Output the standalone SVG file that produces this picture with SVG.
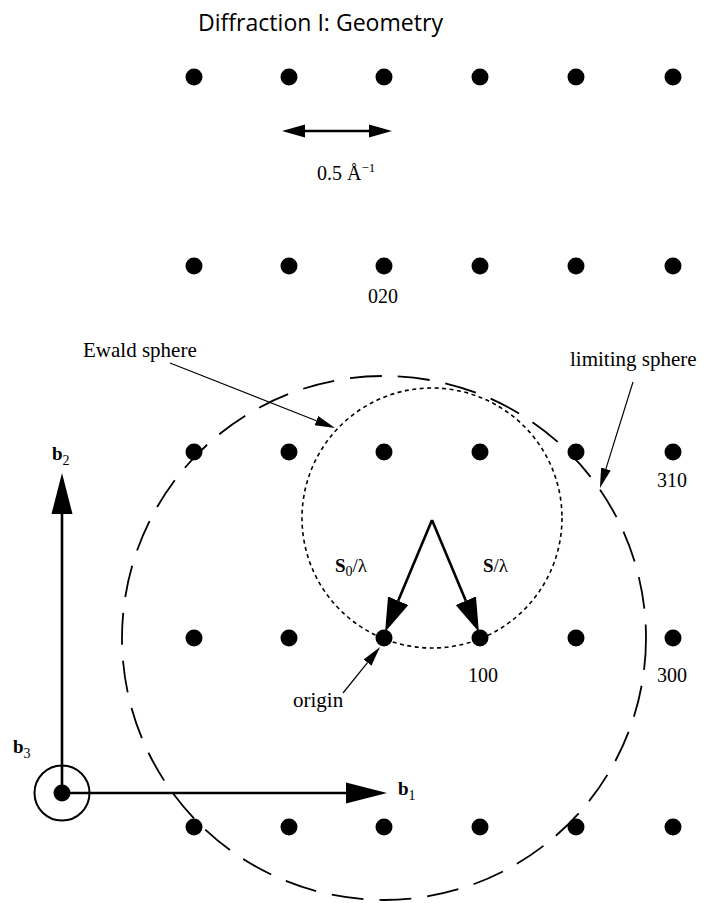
<svg xmlns="http://www.w3.org/2000/svg" width="703" height="903" viewBox="0 0 703 903">
<style>
.dot{fill:#000}
.lbl{font-family:"Liberation Serif","Times New Roman",serif;font-size:21px;fill:#000}
.num{font-family:"Liberation Serif","Times New Roman",serif;font-size:20px;fill:#000}
.vec{font-family:"Liberation Serif","Times New Roman",serif;font-size:19px;font-weight:bold;fill:#000}
.sub{font-size:14px;font-weight:normal}
.title{font-family:"Open Sans","Noto Sans",sans-serif;font-size:23px;fill:#000}
.thick{stroke:#000;stroke-width:2.6;fill:none}
.thin{stroke:#000;stroke-width:1.2;fill:none}
</style>
<defs>
<marker id="hb" markerUnits="userSpaceOnUse" markerWidth="42" markerHeight="24" viewBox="0 -12 42 24" refX="0" refY="0" orient="auto"><path d="M0,-10.5 L41,0 L0,10.5 Z" fill="#000"/></marker>
<marker id="hs" markerUnits="userSpaceOnUse" markerWidth="36" markerHeight="24" viewBox="0 -12 36 24" refX="0" refY="0" orient="auto"><path d="M0,-11 L34,0 L0,11 Z" fill="#000"/></marker>
<marker id="hm" markerUnits="userSpaceOnUse" markerWidth="24" markerHeight="16" viewBox="0 -8 24 16" refX="0" refY="0" orient="auto-start-reverse"><path d="M0,-6.5 L23,0 L0,6.5 Z" fill="#000"/></marker>
<marker id="ht" markerUnits="userSpaceOnUse" markerWidth="22" markerHeight="12" viewBox="0 -6 22 12" refX="0" refY="0" orient="auto"><path d="M0,-5 L20,0 L0,5 Z" fill="#000"/></marker>
</defs>
<rect width="703" height="903" fill="#fff"/>
<text class="title" x="198" y="31" textLength="245" lengthAdjust="spacingAndGlyphs">Diffraction I: Geometry</text>
<g id="lattice">
<g id="row0"><circle class="dot" cx="194" cy="77" r="8.5"/><circle class="dot" cx="289" cy="77" r="8.5"/><circle class="dot" cx="384" cy="77" r="8.5"/><circle class="dot" cx="480" cy="77" r="8.5"/><circle class="dot" cx="576" cy="77" r="8.5"/><circle class="dot" cx="673" cy="77" r="8.5"/></g>
<g id="row1"><circle class="dot" cx="194" cy="266" r="8.5"/><circle class="dot" cx="289" cy="266" r="8.5"/><circle class="dot" cx="384" cy="266" r="8.5"/><circle class="dot" cx="480" cy="266" r="8.5"/><circle class="dot" cx="576" cy="266" r="8.5"/><circle class="dot" cx="673" cy="266" r="8.5"/></g>
<g id="row2"><circle class="dot" cx="194" cy="452" r="8.5"/><circle class="dot" cx="289" cy="452" r="8.5"/><circle class="dot" cx="384" cy="452" r="8.5"/><circle class="dot" cx="480" cy="452" r="8.5"/><circle class="dot" cx="576" cy="452" r="8.5"/><circle class="dot" cx="673" cy="452" r="8.5"/></g>
<g id="row3"><circle class="dot" cx="194" cy="638" r="8.5"/><circle class="dot" cx="289" cy="638" r="8.5"/><circle class="dot" cx="384" cy="638" r="8.5"/><circle class="dot" cx="480" cy="638" r="8.5"/><circle class="dot" cx="576" cy="638" r="8.5"/><circle class="dot" cx="673" cy="638" r="8.5"/></g>
<g id="row4"><circle class="dot" cx="194" cy="827" r="8.5"/><circle class="dot" cx="289" cy="827" r="8.5"/><circle class="dot" cx="384" cy="827" r="8.5"/><circle class="dot" cx="480" cy="827" r="8.5"/><circle class="dot" cx="576" cy="827" r="8.5"/><circle class="dot" cx="673" cy="827" r="8.5"/></g>
</g>
<g id="limiting-sphere"><circle cx="384" cy="638" r="262" fill="none" stroke="#000" stroke-width="1.8" stroke-dasharray="32 16"/></g>
<g id="ewald-sphere"><circle cx="432" cy="518" r="130" fill="none" stroke="#000" stroke-width="1.6" stroke-dasharray="4 3.5"/></g>
<g id="axes-origin"><circle cx="62" cy="793" r="27.5" fill="none" stroke="#000" stroke-width="2"/><circle class="dot" cx="62" cy="793" r="8.5"/></g>
<g id="connectors">
<line class="thick" x1="62" y1="793" x2="62" y2="514" marker-end="url(#hb)"/>
<line class="thick" x1="62" y1="793" x2="346" y2="793" marker-end="url(#hb)"/>
<line class="thick" x1="432" y1="520" x2="398.2" y2="600.7" marker-end="url(#hs)"/>
<line class="thick" x1="432" y1="520" x2="465.8" y2="600.7" marker-end="url(#hs)"/>
<line class="thick" stroke-width="3" x1="305" y1="131" x2="369" y2="131" marker-start="url(#hm)" marker-end="url(#hm)"/>
<line class="thin" x1="170" y1="363" x2="316.4" y2="420.7" marker-end="url(#ht)"/>
<line class="thin" x1="633" y1="382" x2="605.9" y2="468.9" marker-end="url(#ht)"/>
<line class="thin" x1="343" y1="693" x2="367.5" y2="662.6" marker-end="url(#ht)"/>
</g>
<g id="labels">
<text class="num" x="317" y="180">0.5 Å<tspan font-size="13" dy="-8">−1</tspan></text>
<text class="num" x="368" y="303">020</text>
<text class="lbl" x="83" y="357">Ewald sphere</text>
<text class="lbl" x="570" y="366">limiting sphere</text>
<text class="num" x="657" y="487">310</text>
<text class="num" x="468" y="682">100</text>
<text class="num" x="657" y="682">300</text>
<text class="lbl" x="293" y="707">origin</text>
<text class="vec" x="335" y="572">S<tspan class="sub" dy="4">0</tspan><tspan font-weight="normal" font-size="19" dy="-4">/λ</tspan></text>
<text class="vec" x="483" y="572">S<tspan font-weight="normal" dy="0">/λ</tspan></text>
<text class="vec" x="52" y="460">b<tspan class="sub" dy="5">2</tspan></text>
<text class="vec" x="13" y="753">b<tspan class="sub" dy="5">3</tspan></text>
<text class="vec" x="398" y="795">b<tspan class="sub" dy="5">1</tspan></text>
</g>
</svg>
